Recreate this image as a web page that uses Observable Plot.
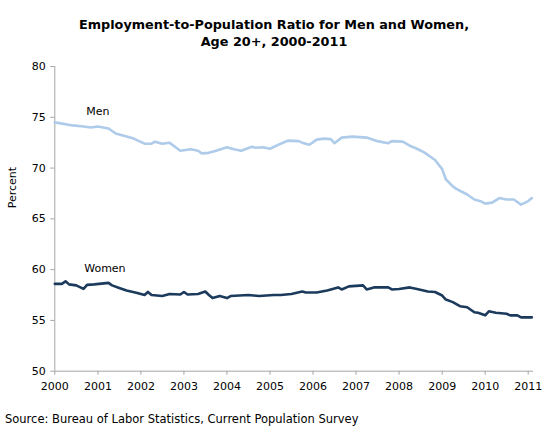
<!DOCTYPE html>
<html>
<head>
<meta charset="utf-8">
<script src="https://cdn.jsdelivr.net/npm/d3@7"></script>
<script src="https://cdn.jsdelivr.net/npm/@observablehq/plot@0.6"></script>
<style>
  html, body { margin: 0; padding: 0; background: #fff; }
  body { width: 548px; height: 436px; overflow: hidden; font-family: "DejaVu Sans", Verdana, sans-serif; }
  #title { height: 56px; box-sizing: border-box; padding-top: 17px; text-align: center; font-weight: bold; font-size: 12.8px; line-height: 16.5px; color: #000; }
  #caption { font-size: 11.5px; color: #000; padding-left: 5px; margin-top: 12px; }
  svg { display: block; }
</style>
</head>
<body>
<div id="title">Employment-to-Population Ratio for Men and Women,<br>Age 20+, 2000-2011</div>
<div id="chart"></div>
<div id="caption">Source: Bureau of Labor Statistics, Current Population Survey</div>
<script>
// Men, age 20+
const menMonths = ["2000-01","2000-06","2000-09","2000-11","2001-01","2001-04","2001-06","2001-09","2001-11",
  "2002-02","2002-04","2002-05","2002-07","2002-09","2002-12","2003-03","2003-05","2003-06","2003-08","2003-10",
  "2004-01","2004-03","2004-05","2004-08","2004-09","2004-11","2005-01","2005-04","2005-06","2005-09","2005-10","2005-12",
  "2006-02","2006-04","2006-06","2006-07","2006-09","2006-12","2007-04","2007-07","2007-10","2007-11",
  "2008-02","2008-04","2008-06","2008-08","2008-11","2009-01","2009-02","2009-04","2009-05","2009-08","2009-10","2009-12",
  "2010-01","2010-03","2010-05","2010-07","2010-09","2010-11","2011-01","2011-02"];
const menValues = [74.5,74.2,74.1,74.0,74.1,73.9,73.4,73.1,72.9,
  72.4,72.4,72.6,72.4,72.5,71.7,71.85,71.7,71.45,71.5,71.7,
  72.05,71.85,71.7,72.1,72.0,72.05,71.9,72.4,72.7,72.65,72.5,72.3,
  72.8,72.9,72.85,72.45,73.0,73.1,73.0,72.65,72.45,72.65,
  72.6,72.2,71.9,71.55,70.8,69.9,68.9,68.2,67.95,67.4,66.9,66.7,
  66.5,66.6,67.05,66.9,66.9,66.4,66.75,67.05];

// Women, age 20+
const womenMonths = ["2000-01","2000-03","2000-04","2000-05","2000-07","2000-09","2000-10","2000-12",
  "2001-04","2001-05","2001-07","2001-09","2001-12","2002-02","2002-03","2002-04","2002-07","2002-09","2002-12",
  "2003-01","2003-02","2003-05","2003-07","2003-08","2003-09","2003-11","2004-01","2004-02","2004-07","2004-10",
  "2005-02","2005-04","2005-07","2005-10","2005-11","2006-02","2006-05","2006-08","2006-09","2006-11",
  "2007-03","2007-04","2007-06","2007-10","2007-11","2008-01","2008-04","2008-06","2008-09","2008-11",
  "2009-01","2009-02","2009-04","2009-06","2009-08","2009-10","2009-11","2010-01","2010-02","2010-04",
  "2010-07","2010-08","2010-10","2010-11","2011-02"];
const womenValues = [58.6,58.6,58.85,58.55,58.45,58.1,58.5,58.55,
  58.7,58.45,58.2,57.95,57.7,57.5,57.8,57.5,57.4,57.6,57.55,
  57.8,57.55,57.6,57.85,57.5,57.2,57.4,57.2,57.4,57.5,57.4,
  57.5,57.5,57.6,57.85,57.75,57.75,57.95,58.25,58.05,58.35,
  58.45,58.05,58.25,58.25,58.05,58.1,58.25,58.1,57.85,57.8,
  57.45,57.05,56.8,56.4,56.3,55.8,55.75,55.5,55.9,55.75,
  55.65,55.5,55.5,55.3,55.3];

const yTicks = [50, 55, 60, 65, 70, 75, 80];
const xTickYears = ["2000","2001","2002","2003","2004","2005","2006","2007","2008","2009","2010","2011"];
const seriesLabels = ["Men", "Women"];
const seriesLabelMonths = ["2001-01", "2001-03"];
const seriesLabelValues = [75.55, 60.1];

const parseM = d3.utcParse("%Y-%m");
const parseY = d3.utcParse("%Y");
const men = menMonths.map((m, i) => ({date: parseM(m), value: menValues[i]}));
const women = womenMonths.map((m, i) => ({date: parseM(m), value: womenValues[i]}));
const labels = seriesLabels.map((s, i) => ({name: s, date: parseM(seriesLabelMonths[i]), value: seriesLabelValues[i]}));
const xTicks = xTickYears.map(parseY);
const xStart = parseM("2000-01");
const xEnd = new Date(Date.UTC(2011, 1, 15));

const axisGray = "#a6a6a6";

const chart = Plot.plot({
  width: 548,
  height: 344,
  marginTop: 10,
  marginBottom: 29.3,
  marginLeft: 54.3,
  marginRight: 15,
  style: {fontFamily: "'DejaVu Sans', Verdana, sans-serif", fontSize: "11px", color: "#000", background: "#fff"},
  x: {type: "utc", domain: [xStart, xEnd]},
  y: {domain: [50, 80]},
  marks: [
    Plot.ruleY([50], {x1: xStart, x2: xEnd, stroke: axisGray, strokeWidth: 1}),
    Plot.ruleX([xStart], {y1: 50, y2: 80, stroke: axisGray, strokeWidth: 1}),
    Plot.axisY({ticks: yTicks, tickSize: 4, tickPadding: 5, stroke: axisGray, fill: "#000", label: null, tickFormat: d => d}),
    Plot.axisX({ticks: xTicks, tickSize: 4, tickPadding: 7, stroke: axisGray, fill: "#000", label: null, tickFormat: d3.utcFormat("%Y")}),
    Plot.line(men, {x: "date", y: "value", stroke: "#afcbea", strokeWidth: 2.6, curve: "linear"}),
    Plot.line(women, {x: "date", y: "value", stroke: "#1b3a5c", strokeWidth: 2.6, curve: "linear"}),
    Plot.text(labels, {x: "date", y: "value", text: "name", fill: "#000", fontSize: 11, textAnchor: "middle"}),
    Plot.text(["Percent"], {frameAnchor: "left", dx: -42, dy: -10.5, rotate: -90, fill: "#000", fontSize: 11})
  ]
});
document.getElementById("chart").appendChild(chart);
</script>
</body>
</html>
